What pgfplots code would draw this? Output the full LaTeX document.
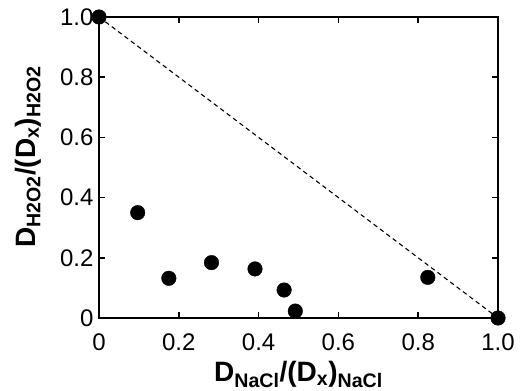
\documentclass[border=0pt]{standalone}
\usepackage{fontspec}
\setmainfont{Liberation Sans}
\usepackage{pgfplots}
\pgfplotsset{compat=1.18}
\begin{document}
\begin{tikzpicture}
\begin{axis}[
  scale only axis,
  width=399bp, height=301bp,
  xmin=0, xmax=1, ymin=0, ymax=1,
  axis line style={line width=2.2bp},
  tick style={line width=1.6bp, black},
  tick align=inside,
  major tick length=6bp,
  xtick={0,0.2,0.4,0.6,0.8,1.0},
  xticklabels={0,0.2,0.4,0.6,0.8,1.0},
  ytick={0,0.2,0.4,0.6,0.8,1.0},
  yticklabels={0,0.2,0.4,0.6,0.8,1.0},
  /pgf/number format/assume math mode=true,
  every tick label/.append style={font=\fontsize{24bp}{26bp}\selectfont},
  xticklabel style={anchor=base, yshift=-32bp},
  yticklabel style={xshift=-2bp},
  xlabel={\fontsize{28bp}{30bp}\selectfont\bfseries D\textsubscript{NaCl}/(D\textsubscript{x})\textsubscript{NaCl}},
  ylabel={\fontsize{28bp}{30bp}\selectfont\bfseries D\textsubscript{H2O2}/(D\textsubscript{x})\textsubscript{H2O2}},
  xlabel style={at={(axis description cs:0.5,-0.2126)}, anchor=base},
  ylabel style={at={(axis description cs:-0.160,0.535)}, anchor=base},
  clip=false,
]
\addplot[black, line width=1.1bp, dash pattern=on 4.5bp off 3.5bp] coordinates {(0,1) (1,0)};
\addplot[only marks, mark=*, mark size=7.3bp, black] coordinates {
(0,1) (0.097,0.35) (0.175,0.132) (0.282,0.184) (0.391,0.163) (0.464,0.093) (0.492,0.023) (0.824,0.135) (1.0,0)
};
\end{axis}
\pgfresetboundingbox
\path[use as bounding box] (current axis.south west) ++(-99bp,-73bp) rectangle ++(522bp,391bp);
\end{tikzpicture}
\end{document}
